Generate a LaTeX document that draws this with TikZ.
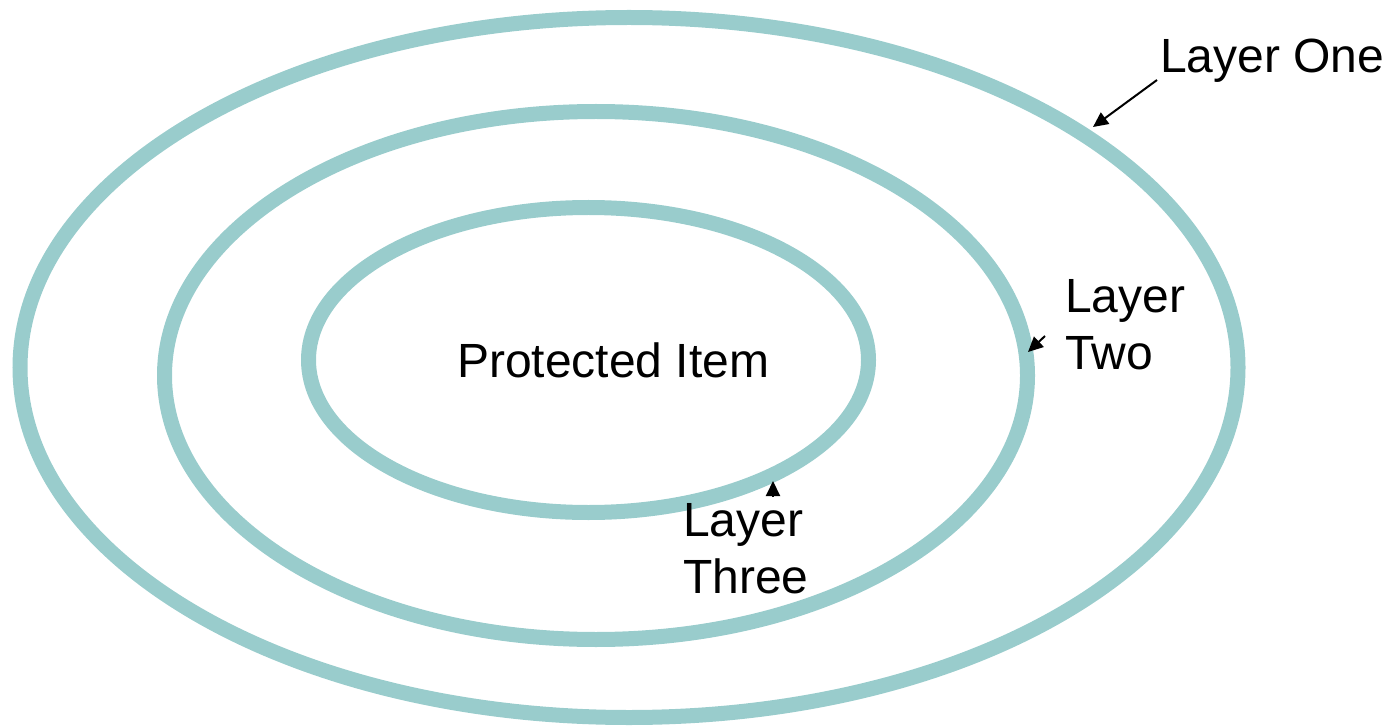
\documentclass[tikz,border=0pt]{standalone}
\usepackage{fontspec}
\setmainfont{Liberation Sans}
\usetikzlibrary{arrows.meta}
\definecolor{ring}{RGB}{153,204,204}
\tikzset{
  ringline/.style={draw=ring, line width=15pt},
  lbl/.style={inner sep=0pt, font=\fontsize{48}{57}\selectfont, align=left},
  ptr/.style={draw=black, line width=2pt, -{Triangle[length=15pt,width=14pt]}}
}
\begin{document}
\begin{tikzpicture}[x=1pt,y=-1pt]
\useasboundingbox (0,0) rectangle (1397,727);
\draw[ringline] (629,367.5) ellipse [x radius=609, y radius=350];
\draw[ringline] (596,375.5) ellipse [x radius=431.5, y radius=264];
\draw[ringline] (588.5,360) ellipse [x radius=280, y radius=152.5];
\node[lbl, anchor=base west] (prot) at (457,377) {Protected Item};
\node[lbl, anchor=base west] (one) at (1160,73) {Layer One};
\node[lbl, anchor=north west] (two) at (1065,279) {Layer\\Two};
\node[lbl, anchor=north west] (three) at (683,503) {Layer\\Three};
\coordinate (t1) at (1093,127);
\coordinate (s1) at (1157,80);
\coordinate (t2) at (1028,352);
\coordinate (s2) at (1045,336);
\coordinate (t3) at (773,481);
\coordinate (s3) at (773,497);
\draw[ptr] (s1) -- (t1);
\draw[ptr] (s2) -- (t2);
\draw[ptr] (s3) -- (t3);
\end{tikzpicture}
\end{document}
